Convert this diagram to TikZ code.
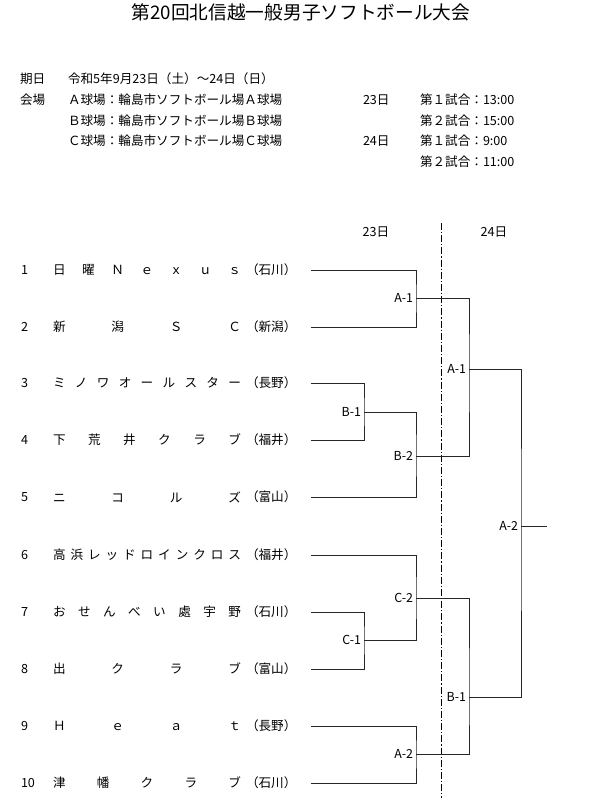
\documentclass[tikz,border=0pt]{standalone}
\usepackage{fontspec}
\setmainfont{Noto Sans CJK JP}
\newcommand{\spreadname}[1]{\makebox[188pt][s]{#1}}
\begin{document}
\begin{tikzpicture}[x=1pt,y=-1pt,
  every node/.style={inner sep=0pt, outer sep=0pt},
  titletext/.style={font=\fontsize{18.7}{22}\selectfont},
  bodytext/.style={font=\fontsize{12.6}{15}\selectfont, anchor=west},
  daytext/.style={font=\fontsize{12.6}{15}\selectfont},
  matchlbl/.style={font=\fontsize{12.4}{15}\selectfont, anchor=east},
  bline/.style={line width=0.9pt, black!85},
  daysep/.style={line width=0.8pt, dash pattern=on 7pt off 2pt on 1.2pt off 2pt}]
\useasboundingbox (0,0) rectangle (600,798);

% title
\node[titletext] (title) at (301,12) {第20回北信越一般男子ソフトボール大会};

% header
\node[bodytext] (h1) at (20,79) {期日};
\node[bodytext] (h1v) at (68,79) {令和5年9月23日（土）～24日（日）};
\node[bodytext] (h2) at (20,100) {会場};
\node[bodytext] (h2a) at (68,100) {Ａ球場：輪島市ソフトボール場Ａ球場};
\node[bodytext] (h2b) at (68,120.5) {Ｂ球場：輪島市ソフトボール場Ｂ球場};
\node[bodytext] (h2c) at (68,141) {Ｃ球場：輪島市ソフトボール場Ｃ球場};
\node[bodytext] (g1) at (363,100) {23日};
\node[bodytext] (g2) at (363,141) {24日};
\node[bodytext] (g11) at (420,100) {第１試合：13:00};
\node[bodytext] (g12) at (420,120.5) {第２試合：15:00};
\node[bodytext] (g21) at (420,141) {第１試合：9:00};
\node[bodytext] (g22) at (420,161.5) {第２試合：11:00};

% day headings and separator
\node[daytext] (d23) at (376,232) {23日};
\node[daytext] (d24) at (494,232) {24日};
\coordinate (dtop) at (441,223);
\coordinate (dbot) at (441,798);
\draw[daysep] (dtop) -- (dbot);

% teams
\node[bodytext] (k1) at (21,270) {1};
\node[bodytext] (n1) at (53,270) {\spreadname{日\hfill 曜\hfill Ｎ\hfill ｅ\hfill ｘ\hfill ｕ\hfill ｓ}};
\node[bodytext] (p1) at (246,270) {（石川）};
\node[bodytext] (k2) at (21,327) {2};
\node[bodytext] (n2) at (53,327) {\spreadname{新\hfill 潟\hfill Ｓ\hfill Ｃ}};
\node[bodytext] (p2) at (246,327) {（新潟）};
\node[bodytext] (k3) at (21,383) {3};
\node[bodytext] (n3) at (53,383) {\spreadname{ミ\hfill ノ\hfill ワ\hfill オ\hfill ー\hfill ル\hfill ス\hfill タ\hfill ー}};
\node[bodytext] (p3) at (246,383) {（長野）};
\node[bodytext] (k4) at (21,440) {4};
\node[bodytext] (n4) at (53,440) {\spreadname{下\hfill 荒\hfill 井\hfill ク\hfill ラ\hfill ブ}};
\node[bodytext] (p4) at (246,440) {（福井）};
\node[bodytext] (k5) at (21,497) {5};
\node[bodytext] (n5) at (53,497) {\spreadname{ニ\hfill コ\hfill ル\hfill ズ}};
\node[bodytext] (p5) at (246,497) {（富山）};
\node[bodytext] (k6) at (21,555) {6};
\node[bodytext] (n6) at (53,555) {\spreadname{高\hfill 浜\hfill レ\hfill ッ\hfill ド\hfill ロ\hfill イ\hfill ン\hfill ク\hfill ロ\hfill ス}};
\node[bodytext] (p6) at (246,555) {（福井）};
\node[bodytext] (k7) at (21,612) {7};
\node[bodytext] (n7) at (53,612) {\spreadname{お\hfill せ\hfill ん\hfill べ\hfill い\hfill 處\hfill 宇\hfill 野}};
\node[bodytext] (p7) at (246,612) {（石川）};
\node[bodytext] (k8) at (21,669) {8};
\node[bodytext] (n8) at (53,669) {\spreadname{出\hfill ク\hfill ラ\hfill ブ}};
\node[bodytext] (p8) at (246,669) {（富山）};
\node[bodytext] (k9) at (21,726) {9};
\node[bodytext] (n9) at (53,726) {\spreadname{Ｈ\hfill ｅ\hfill ａ\hfill ｔ}};
\node[bodytext] (p9) at (246,726) {（長野）};
\node[bodytext] (k10) at (21,783) {10};
\node[bodytext] (n10) at (53,783) {\spreadname{津\hfill 幡\hfill ク\hfill ラ\hfill ブ}};
\node[bodytext] (p10) at (246,783) {（石川）};

% bracket line starts
\coordinate (s1) at (311,270);
\coordinate (s2) at (311,327);
\coordinate (s3) at (311,383);
\coordinate (s4) at (311,440);
\coordinate (s5) at (311,497);
\coordinate (s6) at (311,555);
\coordinate (s7) at (311,612);
\coordinate (s8) at (311,669);
\coordinate (s9) at (311,726);
\coordinate (s10) at (311,783);

% match points
\coordinate (mA1) at (416,298);
\coordinate (mB1) at (364,412);
\coordinate (mB2) at (416,456);
\coordinate (rA1) at (469,369);
\coordinate (mC1) at (364,640);
\coordinate (mC2) at (416,598);
\coordinate (mA2) at (416,754);
\coordinate (rB1) at (469,697);
\coordinate (fA2) at (521,526);
\coordinate (win) at (547,526);

% brackets
\draw[bline] (s1) -| (mA1) |- (s2);
\draw[bline] (s3) -| (mB1) |- (s4);
\draw[bline] (mB1) -| (mB2) |- (s5);
\draw[bline] (mA1) -| (rA1) |- (mB2);
\draw[bline] (s7) -| (mC1) |- (s8);
\draw[bline] (s6) -| (mC2) |- (mC1);
\draw[bline] (s9) -| (mA2) |- (s10);
\draw[bline] (mC2) -| (rB1) |- (mA2);
\draw[bline] (rA1) -| (fA2) |- (rB1);
\draw[bline] (fA2) -- (win);

% match labels
\node[matchlbl] (lA1) at ([xshift=-3pt]mA1) {A-1};
\node[matchlbl] (lB1) at ([xshift=-3pt]mB1) {B-1};
\node[matchlbl] (lB2) at ([xshift=-3pt]mB2) {B-2};
\node[matchlbl] (lrA1) at ([xshift=-3pt]rA1) {A-1};
\node[matchlbl] (lC1) at ([xshift=-3pt]mC1) {C-1};
\node[matchlbl] (lC2) at ([xshift=-3pt]mC2) {C-2};
\node[matchlbl] (lA2) at ([xshift=-3pt]mA2) {A-2};
\node[matchlbl] (lrB1) at ([xshift=-3pt]rB1) {B-1};
\node[matchlbl] (lfA2) at ([xshift=-3pt]fA2) {A-2};
\end{tikzpicture}
\end{document}
